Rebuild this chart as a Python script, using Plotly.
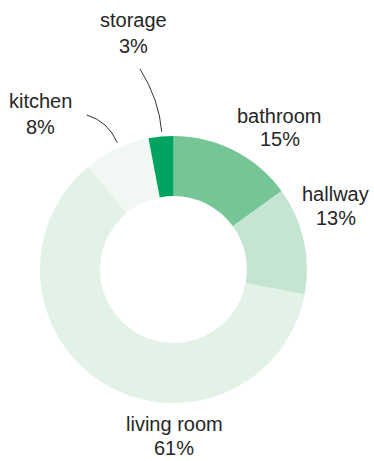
import plotly.graph_objects as go

# Share of floor area by room
rooms = ["bathroom", "hallway", "living room", "kitchen", "storage"]
shares = [15, 13, 61, 8, 3]
colors = ["#76c597", "#c5e5d2", "#e2f2e7", "#f1f8f4", "#00a35f"]

W, H = 374, 461

def px(x):
    return x / W

def py(y):
    return 1 - y / H

fig = go.Figure(
    go.Pie(
        labels=rooms,
        values=shares,
        sort=False,
        direction="clockwise",
        rotation=0,
        hole=0.55,
        marker=dict(colors=colors, line=dict(width=0)),
        textinfo="none",
        hoverinfo="label+percent",
        showlegend=False,
        domain=dict(x=[px(40), px(307)], y=[py(403), py(136)]),
    )
)

# label anchor points (centre x, middle of name line, middle of value line)
label_pos = {
    "bathroom": (279.5, 115.5, 139.0),
    "hallway": (335.5, 194.0, 217.5),
    "living room": (174.0, 424.0, 448.0),
    "kitchen": (40.5, 101.5, 126.5),
    "storage": (133.5, 20.0, 45.5),
}

font = dict(family="Liberation Sans, Arial, Helvetica, sans-serif", size=20, color="#262626")
annotations = []
for room, share in zip(rooms, shares):
    x, y1, y2 = label_pos[room]
    for text, y in ((room, y1), (f"{share}%", y2)):
        annotations.append(
            dict(
                x=px(x), y=py(y), xref="paper", yref="paper",
                text=text, showarrow=False, font=font,
                xanchor="center", yanchor="middle",
            )
        )

def curve(p0, c, p1):
    return (
        f"M {px(p0[0])},{py(p0[1])} "
        f"Q {px(c[0])},{py(c[1])} {px(p1[0])},{py(p1[1])}"
    )

leader = dict(color="#333333", width=1)
shapes = [
    dict(type="path", xref="paper", yref="paper",
         path=curve((140, 69), (159.2, 99.7), (161.7, 131.7)), line=leader),
    dict(type="path", xref="paper", yref="paper",
         path=curve((86.7, 115), (108, 121.2), (117.3, 142.7)), line=leader),
]

fig.update_layout(
    width=W,
    height=H,
    margin=dict(l=0, r=0, t=0, b=0),
    paper_bgcolor="white",
    plot_bgcolor="white",
    annotations=annotations,
    shapes=shapes,
)

fig.write_html("out.html")
